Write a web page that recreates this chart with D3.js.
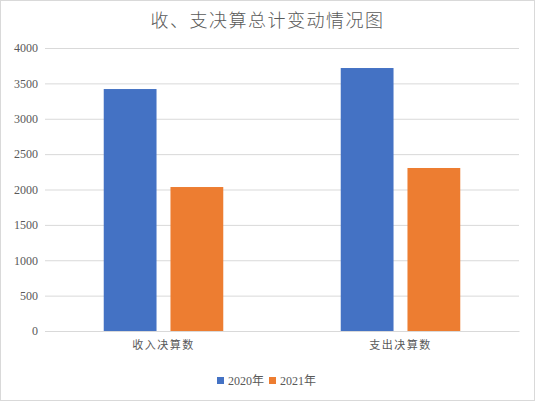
<!DOCTYPE html>
<html><head><meta charset="utf-8">
<script src="https://cdn.jsdelivr.net/npm/d3@7"></script>
<style>body{margin:0;background:#fff}svg{display:block}</style>
</head><body>
<svg id="c" width="535" height="401"></svg>
<script>
const categories = ["收入决算数", "支出决算数"];
const seriesNames = ["2020年", "2021年"];
const values2020 = [3420, 3717];
const values2021 = [2035, 2304];
const yTicks = [0, 500, 1000, 1500, 2000, 2500, 3000, 3500, 4000];
const colors = ["#4472C4", "#ED7D31"];

const svg = d3.select("#c");
const W = 535, H = 401;
const font = "'Liberation Serif','Noto Sans CJK SC',serif";
svg.append("rect").attr("x",0.5).attr("y",0.5).attr("width",W-1).attr("height",H-1)
  .attr("fill","#fff").attr("stroke","#d9d9d9");

const m = {l:45, r:16, t:48, b:70};
const x0 = d3.scaleBand().domain(categories).range([m.l, W-m.r]).paddingInner(0).paddingOuter(0);
const x1 = d3.scaleBand().domain(seriesNames).range([0, x0.bandwidth()]).paddingInner(0.209).paddingOuter(0.88);
const y = d3.scaleLinear().domain([0,4000]).range([H-m.b, m.t]);

svg.append("text").attr("x", W/2).attr("y", 27).attr("text-anchor","middle")
  .attr("font-family","'Noto Sans CJK SC',sans-serif").attr("font-size",18).attr("font-weight",300).attr("fill","#595959")
  .attr("letter-spacing","1.5").text("收、支决算总计变动情况图");

const gy = svg.append("g").attr("transform",`translate(${m.l},0)`)
  .call(d3.axisLeft(y).tickValues(yTicks).tickSize(-(W-m.l-m.r)).tickPadding(7).tickFormat(d3.format("d")));
gy.select(".domain").remove();
gy.selectAll(".tick line").attr("stroke","#d9d9d9");
gy.selectAll(".tick text").attr("fill","#595959").attr("font-family",font).attr("font-size",12);

const series = [values2020, values2021];
const g = svg.append("g");
categories.forEach((c,i)=>{
  seriesNames.forEach((s,j)=>{
    g.append("rect").attr("x", x0(c)+x1(s)).attr("width", x1.bandwidth())
      .attr("y", y(series[j][i])).attr("height", y(0)-y(series[j][i])).attr("fill", colors[j]);
  });
});

const gx = svg.append("g").attr("transform",`translate(0,${y(0)})`)
  .call(d3.axisBottom(x0).tickSize(0).tickPadding(10));
gx.select(".domain").attr("stroke","#d9d9d9");
gx.selectAll(".tick text").attr("fill","#595959").attr("font-family","'Noto Sans CJK SC',sans-serif")
  .attr("font-size",11).attr("letter-spacing","1.5");

const leg = svg.append("g").attr("transform","translate(217,381)");
const lx = [0, 52];
seriesNames.forEach((s,j)=>{
  leg.append("rect").attr("x",lx[j]).attr("y",-4).attr("width",7).attr("height",7).attr("fill",colors[j]);
  leg.append("text").attr("x",lx[j]+11).attr("y",4).attr("fill","#595959")
    .attr("font-family",font).attr("font-size",12).text(s);
});
</script>
</body></html>
